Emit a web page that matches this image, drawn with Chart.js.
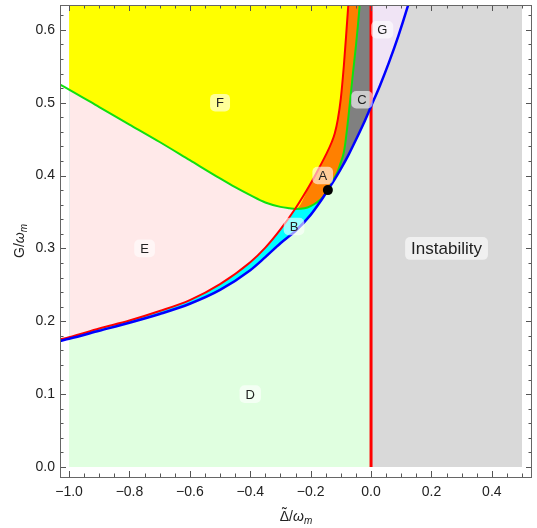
<!DOCTYPE html>
<html>
<head>
<meta charset="utf-8">
<script src="https://cdn.jsdelivr.net/npm/chart.js@4.4.1/dist/chart.umd.min.js"></script>
<style>
  html, body { margin: 0; padding: 0; background: #fff; }
  #wrap { width: 537px; height: 528px; }
</style>
</head>
<body>
<div id="wrap"><canvas id="myChart" width="537" height="528"></canvas></div>
<script>
// curves (x = detuning, y = G)
const blueX = [-1.03, -1.0, -0.9, -0.8, -0.7, -0.6, -0.5, -0.4, -0.35, -0.3, -0.25, -0.2, -0.17, -0.143, -0.12, -0.1, -0.075, -0.05, -0.025, 0, 0.03, 0.06, 0.09, 0.12, 0.127];
const blueY = [0.173, 0.176, 0.187, 0.198, 0.210, 0.224, 0.243, 0.270, 0.288, 0.307, 0.324, 0.346, 0.363, 0.380, 0.395, 0.409, 0.428, 0.449, 0.471, 0.495, 0.524, 0.556, 0.591, 0.630, 0.640];

const redX = [-1.03, -1.0, -0.9, -0.8, -0.7, -0.6, -0.5, -0.4, -0.35, -0.3, -0.25, -0.2, -0.17, -0.15, -0.13, -0.12, -0.11, -0.10, -0.09, -0.082, -0.075];
const redY = [0.175, 0.178, 0.190, 0.201, 0.214, 0.229, 0.251, 0.281, 0.301, 0.326, 0.355, 0.389, 0.412, 0.428, 0.446, 0.458, 0.477, 0.506, 0.551, 0.595, 0.636];

const greenX = [-1.035, -1.0, -0.9, -0.8, -0.7, -0.6, -0.5, -0.45, -0.4, -0.35, -0.3, -0.27, -0.25, -0.22, -0.2, -0.18, -0.16, -0.143, -0.13, -0.12, -0.11, -0.1, -0.09, -0.085, -0.08, -0.075, -0.068, -0.06, -0.05, -0.043, -0.037];
const greenY = [0.526, 0.518, 0.494, 0.470, 0.446, 0.421, 0.396, 0.384, 0.373, 0.363, 0.357, 0.355, 0.354, 0.355, 0.358, 0.363, 0.370, 0.380, 0.390, 0.398, 0.406, 0.418, 0.432, 0.445, 0.462, 0.480, 0.508, 0.540, 0.578, 0.608, 0.637];

// region extents
const stableX = [-1.0, 0];
const unstableX = [0, 0.5];
const regionTop = 0.64;
const greenMinX = -0.25;
const markPoint = { x: -0.143, y: 0.380 };

// region labels
const labelText = ["F", "E", "D", "A", "B", "C", "G", "Instability"];
const labelX = [-0.5, -0.75, -0.4, -0.16, -0.255, -0.03, 0.037, 0.25];
const labelY = [0.5, 0.30, 0.10, 0.40, 0.33, 0.504, 0.60, 0.30];

// ticks
const xTickValues = [-1.0, -0.8, -0.6, -0.4, -0.2, 0.0, 0.2, 0.4];
const yTickValues = [0.0, 0.1, 0.2, 0.3, 0.4, 0.5, 0.6];

const FONT = "'Liberation Sans', Arial, sans-serif";

function pts(xs, ys, lo = -Infinity, hi = Infinity) {
    const out = [];
    xs.forEach((x, i) => {
        if (x >= lo && x <= hi) out.push({ x: x, y: ys[i] });
    });
    return out;
}

function fmt(v) {
    return v.toFixed(1).replace("-", "\u2212");
}

const lineDs = (data, color, width) => ({
    data: data,
    borderColor: color,
    borderWidth: width,
    pointRadius: 0,
    fill: false,
    cubicInterpolationMode: "monotone",
});

const fillDs = (data, color, fill) => ({
    data: data,
    borderColor: "transparent",
    borderWidth: 0,
    backgroundColor: color,
    pointRadius: 0,
    fill: fill,
    cubicInterpolationMode: "monotone",
});

const yellowEdge = pts(greenX, greenY, -1.0, greenMinX).concat(pts(redX, redY, greenMinX + 1e-9));

// frame, inward ticks, axis titles and region labels
const decor = {
    id: "decor",
    afterDraw(chart) {
        const { ctx, chartArea: a } = chart;
        const sx = chart.scales.x, sy = chart.scales.y;
        ctx.save();
        ctx.strokeStyle = "#555";
        ctx.lineWidth = 1;

        const tickX = (v, len) => {
            const p = Math.round(sx.getPixelForValue(v)) + 0.5;
            ctx.beginPath();
            ctx.moveTo(p, a.bottom); ctx.lineTo(p, a.bottom - len);
            ctx.moveTo(p, a.top); ctx.lineTo(p, a.top + len);
            ctx.stroke();
        };
        const tickY = (v, len) => {
            const p = Math.round(sy.getPixelForValue(v)) + 0.5;
            ctx.beginPath();
            ctx.moveTo(a.left, p); ctx.lineTo(a.left + len, p);
            ctx.moveTo(a.right, p); ctx.lineTo(a.right - len, p);
            ctx.stroke();
        };
        for (let i = -20; i <= 10; i++) tickX(i * 0.05, i % 4 === 0 ? 6 : 3.5);
        for (let i = 0; i <= 31; i++) tickY(i * 0.02, i % 5 === 0 ? 6 : 3.5);

        ctx.strokeStyle = "#666";
        ctx.strokeRect(a.left + 0.5, a.top + 0.5, a.right - a.left - 1, a.bottom - a.top);

        // region labels
        labelText.forEach((t, i) => {
            const size = t.length > 1 ? 17 : 13;
            ctx.font = size + "px " + FONT;
            const w = ctx.measureText(t).width + 12;
            const h = size * 1.35;
            const cx = sx.getPixelForValue(labelX[i]);
            const cy = sy.getPixelForValue(labelY[i]);
            ctx.fillStyle = "rgba(255,255,255,0.6)";
            ctx.beginPath();
            ctx.roundRect(cx - w / 2, cy - h / 2, w, h, 5);
            ctx.fill();
            ctx.fillStyle = "#222";
            ctx.textAlign = "center";
            ctx.textBaseline = "middle";
            ctx.fillText(t, cx, cy + 1);
        });

        // axis titles with italic omega and subscript m
        const parts = (first, tilde) => [
            { t: first, f: "14px " + FONT, dy: 0, tilde: tilde },
            { t: "/", f: "14px " + FONT, dy: 0 },
            { t: "\u03c9", f: "italic 14px " + FONT, dy: 0 },
            { t: "m", f: "italic 10px " + FONT, dy: 3 },
        ];
        const drawTitle = (list, cx, base) => {
            let total = 0;
            list.forEach((p) => { ctx.font = p.f; p.w = ctx.measureText(p.t).width; total += p.w; });
            let x = cx - total / 2;
            ctx.textBaseline = "alphabetic";
            ctx.fillStyle = "#222";
            list.forEach((p) => {
                ctx.font = p.f;
                ctx.textAlign = "left";
                ctx.fillText(p.t, x, base + p.dy);
                if (p.tilde) {
                    ctx.textAlign = "center";
                    ctx.fillText("\u02dc", x + p.w / 2, base - 3);
                }
                x += p.w;
            });
        };
        drawTitle(parts("\u0394", true), (a.left + a.right) / 2, 521);
        ctx.save();
        ctx.translate(23.5, (a.top + a.bottom) / 2);
        ctx.rotate(-Math.PI / 2);
        drawTitle(parts("G", false), 0, 0);
        ctx.restore();

        ctx.restore();
    },
};

const ctx = document.getElementById("myChart").getContext("2d");
const myChart = new Chart(ctx, {
    type: "line",
    data: {
        datasets: [
            {
                data: [markPoint],
                showLine: false,
                pointRadius: 5,
                pointBackgroundColor: "#000",
                pointBorderWidth: 0,
                fill: false,
            },
            lineDs(pts(blueX, blueY), "#0000ff", 2.5),
            lineDs([{ x: 0, y: 0 }, { x: 0, y: regionTop }], "#ff0000", 3),
            lineDs(pts(redX, redY), "#ff0000", 2),
            lineDs(pts(greenX, greenY), "#10e010", 2),
            // fills: lower index paints on top
            fillDs(yellowEdge, "#ffff00", "end"),
            fillDs(pts(greenX, greenY, greenMinX), "#ff8000", "end"),
            fillDs(pts(redX, redY, -1.0, greenMinX), "#ffe9e9", "end"),
            fillDs(pts(blueX, blueY, -1.0, markPoint.x), "#00ffff", "end"),
            fillDs(pts(blueX, blueY, -1.0, 0), "#808080", "end"),
            fillDs(stableX.map((x) => ({ x: x, y: regionTop })), "#e0ffe0", "origin"),
            fillDs(pts(blueX, blueY, 0), "#f0e4f5", "end"),
            fillDs(unstableX.map((x) => ({ x: x, y: regionTop })), "#d9d9d9", "origin"),
        ],
    },
    options: {
        responsive: false,
        animation: false,
        events: [],
        layout: { padding: { top: 5, right: 5, left: 0, bottom: 0 } },
        plugins: {
            legend: { display: false },
            tooltip: { enabled: false },
            filler: { drawTime: "beforeDatasetsDraw" },
        },
        scales: {
            x: {
                type: "linear",
                min: -1.03,
                max: 0.533,
                grid: { display: false, drawTicks: false },
                border: { display: false },
                afterBuildTicks: (s) => { s.ticks = xTickValues.map((v) => ({ value: v })); },
                afterFit: (s) => { s.height = 51; s.paddingLeft = 0; s.paddingRight = 0; },
                ticks: {
                    padding: 7,
                    maxRotation: 0,
                    autoSkip: false,
                    color: "#222",
                    font: { family: FONT, size: 14 },
                    callback: (v) => fmt(v),
                },
            },
            y: {
                type: "linear",
                min: -0.0137,
                max: 0.634,
                grid: { display: false, drawTicks: false },
                border: { display: false },
                afterBuildTicks: (s) => { s.ticks = yTickValues.map((v) => ({ value: v })); },
                afterFit: (s) => { s.width = 60; s.paddingTop = 0; s.paddingBottom = 0; },
                ticks: {
                    padding: 5,
                    autoSkip: false,
                    color: "#222",
                    font: { family: FONT, size: 14 },
                    callback: (v) => fmt(v),
                },
            },
        },
    },
    plugins: [decor],
});
</script>
</body>
</html>
